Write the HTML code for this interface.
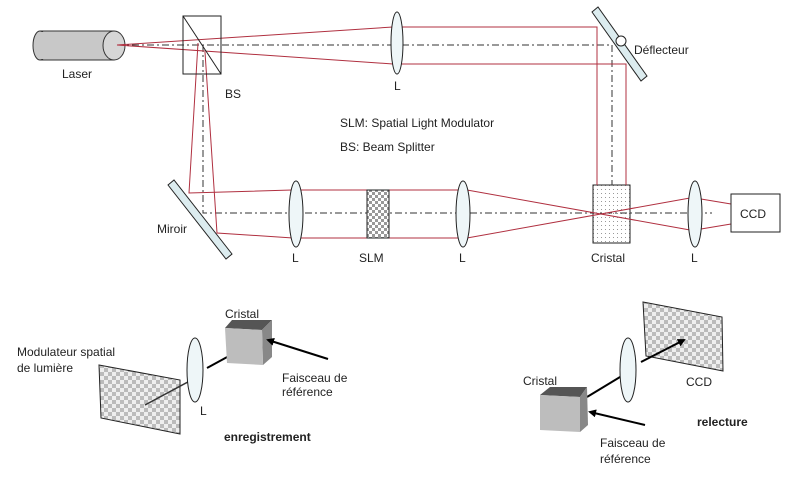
<!DOCTYPE html>
<html><head><meta charset="utf-8"><style>
html,body{margin:0;padding:0;background:#fff;width:800px;height:482px;overflow:hidden}
svg{display:block}
text{font-family:"Liberation Sans",Arial,sans-serif;font-size:12px;fill:#222}
</style></head><body>
<svg width="800" height="482" viewBox="0 0 800 482" xmlns="http://www.w3.org/2000/svg">
<defs>
<pattern id="chk" width="6" height="6" patternUnits="userSpaceOnUse">
<rect width="6" height="6" fill="#fff"/><rect width="3" height="3" fill="#999"/><rect x="3" y="3" width="3" height="3" fill="#999"/>
</pattern>
<pattern id="chk2" width="8" height="8" patternUnits="userSpaceOnUse">
<rect width="8" height="8" fill="#eee"/><rect width="4" height="4" fill="#bbb"/><rect x="4" y="4" width="4" height="4" fill="#bbb"/>
</pattern>
<pattern id="dots" width="4" height="4" patternUnits="userSpaceOnUse">
<rect width="4" height="4" fill="#fff"/><rect x="1" y="1" width="1" height="1" fill="#999"/>
</pattern>
<marker id="ar" markerWidth="8" markerHeight="8" refX="6" refY="4" orient="auto" markerUnits="userSpaceOnUse"><path d="M0,0 L8,4 L0,8 z" fill="#000"/></marker>
</defs>

<!-- Laser -->
<rect x="40" y="31" width="74" height="29" fill="#c8c8c8" stroke="#333"/>
<ellipse cx="40" cy="45.5" rx="7" ry="14.5" fill="#c8c8c8" stroke="#333"/>
<rect x="40" y="32" width="73" height="27" fill="#c8c8c8"/>
<path d="M40,31 H114 M40,60 H114" stroke="#333"/>
<ellipse cx="114" cy="45.5" rx="11" ry="14.5" fill="#d6d6d6" stroke="#333"/>
<text x="62" y="78">Laser</text>

<!-- Cristal -->
<rect x="593" y="185" width="37" height="58" fill="url(#dots)" stroke="#222"/>

<!-- dash-dot center lines -->
<g stroke="#333" stroke-width="1" stroke-dasharray="7,3,2,3" fill="none">
<path d="M117,45 H612 V185"/>
<path d="M203,45 V213 H712"/>
</g>

<!-- red beams -->
<g stroke="#b03040" stroke-width="1" fill="none">
<path d="M117,45 L393,27 H597 V185"/>
<path d="M117,45 L393,64 H626 V185"/>
<path d="M198,43 L189,193 L292,190 H460"/>
<path d="M205,52 L217,233 L293,238 H460"/>
<path d="M467,190 L690,230"/>
<path d="M467,238 L690,198"/>
<path d="M701,199 L731,204"/>
<path d="M701,229 L731,224"/>
</g>

<!-- BS -->
<rect x="183" y="16" width="38" height="58" fill="none" stroke="#222"/>
<line x1="183" y1="16" x2="221" y2="74" stroke="#222"/>
<text x="225" y="98">BS</text>

<!-- Lenses -->
<g fill="#eef6f8" stroke="#222">
<ellipse cx="397" cy="43" rx="6" ry="31"/>
<ellipse cx="296" cy="214" rx="7" ry="33"/>
<ellipse cx="463" cy="214" rx="7" ry="33"/>
<ellipse cx="695" cy="214" rx="7" ry="33"/>
</g>
<text x="394" y="90">L</text>
<text x="292" y="262">L</text>
<text x="459" y="262">L</text>
<text x="691" y="262">L</text>

<!-- Deflector -->
<polygon points="592,12 598,7 647,76 641,81" fill="#dcecef" stroke="#222"/>
<circle cx="621" cy="41" r="5" fill="#fff" stroke="#222"/>
<text x="634" y="54">Déflecteur</text>

<!-- Miroir -->
<polygon points="168,185 174,180 232,254 226,259" fill="#dcecef" stroke="#222"/>
<text x="157" y="233">Miroir</text>

<!-- SLM -->
<rect x="367" y="190" width="22" height="48" fill="url(#chk)" stroke="#222"/>
<text x="359" y="262">SLM</text>

<text x="591" y="262">Cristal</text>

<!-- CCD -->
<rect x="731" y="194" width="49" height="38" fill="#fff" stroke="#222"/>
<text x="740" y="218">CCD</text>

<text x="340" y="127">SLM: Spatial Light Modulator</text>
<text x="340" y="151">BS: Beam Splitter</text>

<!-- bottom left -->
<text x="17" y="356">Modulateur spatial</text>
<text x="17" y="372">de lumière</text>
<polygon points="99,365 180,380 180,434 101,418" fill="url(#chk2)" stroke="#222"/>
<line x1="145" y1="405" x2="199" y2="376" stroke="#333" stroke-width="1.5"/>
<ellipse cx="195" cy="370" rx="8" ry="32" fill="#eef6f8" stroke="#222"/>
<text x="200" y="415">L</text>
<line x1="207" y1="368" x2="240" y2="350" stroke="#000" stroke-width="2" marker-end="url(#ar)"/>
<polygon points="225,328 232,320 272,320 262,330" fill="#555"/>
<polygon points="262,330 272,320 272,357 263,365" fill="#888"/>
<polygon points="225,328 262,330 263,365 227,363" fill="#bdbdbd"/>
<line x1="328" y1="359" x2="268" y2="340" stroke="#000" stroke-width="2" marker-end="url(#ar)"/>
<text x="225" y="318">Cristal</text>
<text x="282" y="382">Faisceau de</text>
<text x="282" y="396">référence</text>
<text x="224" y="441" style="font-weight:bold">enregistrement</text>

<!-- bottom right -->
<polygon points="643,302 722,317 723,371 646,356" fill="url(#chk2)" stroke="#222"/>
<text x="686" y="386">CCD</text>
<line x1="587" y1="397" x2="625" y2="374" stroke="#000" stroke-width="2"/>
<ellipse cx="628" cy="370" rx="8" ry="32" fill="#eef6f8" stroke="#222"/>
<line x1="641" y1="362" x2="684" y2="340" stroke="#000" stroke-width="2" marker-end="url(#ar)"/>
<polygon points="540,395 550,387 587,387 580,397" fill="#555"/>
<polygon points="580,397 587,387 588,425 580,432" fill="#888"/>
<polygon points="540,395 580,397 580,432 540,430" fill="#bdbdbd"/>
<line x1="645" y1="425" x2="590" y2="412" stroke="#000" stroke-width="2" marker-end="url(#ar)"/>
<text x="523" y="385">Cristal</text>
<text x="600" y="447">Faisceau de</text>
<text x="600" y="463">référence</text>
<text x="697" y="426" style="font-weight:bold">relecture</text>
</svg>
</body></html>
